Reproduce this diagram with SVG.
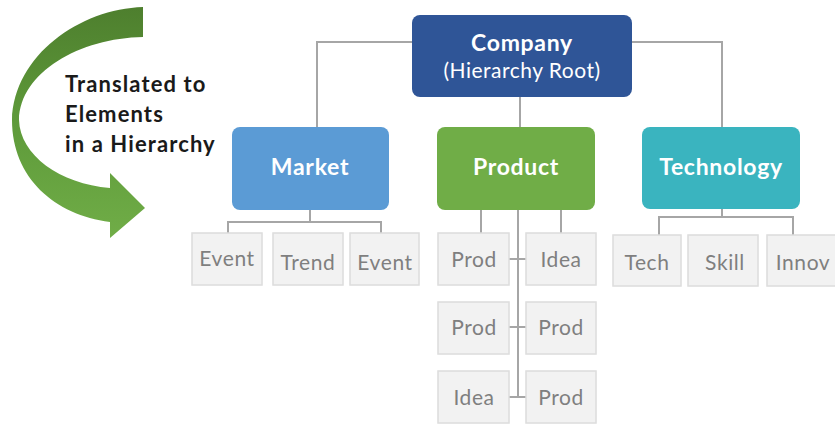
<svg xmlns="http://www.w3.org/2000/svg" width="835" height="425" viewBox="0 0 835 425">
<defs>
<linearGradient id="ag" x1="0" y1="0" x2="0" y2="1">
<stop offset="0" stop-color="#4E7F2E"/>
<stop offset="0.5" stop-color="#5E9A3A"/>
<stop offset="1" stop-color="#70AD47"/>
</linearGradient>
<style>
.box{stroke:none}
.leaf{fill:#F2F2F2;stroke:#DCDCDC;stroke-width:1.5}
.lt{font-family:Lato,"Open Sans","Liberation Sans",sans-serif;font-size:21px;letter-spacing:0.6px;fill:#7F7F7F;text-anchor:middle}
.bt{font-family:Lato,"Open Sans","Liberation Sans",sans-serif;font-size:23px;letter-spacing:0.7px;font-weight:bold;fill:#FFFFFF;text-anchor:middle}
.conn{fill:none;stroke:#A6A6A6;stroke-width:2}
.cap{font-family:Lato,"Open Sans","Liberation Sans",sans-serif;font-size:22px;letter-spacing:1.1px;font-weight:bold;fill:#1A1A1A}
</style>
</defs>
<rect width="835" height="425" fill="#FFFFFF"/>
<g id="arrow">
<path d="M143,7 C80,9 14,55 12,120 C12,178 55,215 110,222 L110,238 L145,208 L110,173 L110,188 C60,184 20,155 19,120 C20,72 80,38 143,37 Z" fill="url(#ag)"/>
</g>
<g id="caption">
<text class="cap" x="65" y="92">Translated to</text>
<text class="cap" x="65" y="122">Elements</text>
<text class="cap" x="65" y="152">in a Hierarchy</text>
</g>
<g id="connectors">
<path class="conn" d="M412,42 H317 V127"/>
<path class="conn" d="M632,42 H722 V127"/>
<path class="conn" d="M520,97 V127"/>
<path class="conn" d="M310,210 V222 M228,233 V222 H381 V233"/>
<path class="conn" d="M481,210 V233 M561,210 V233 M518,210 V397 M509,259 H526 M509,327 H526 M509,397 H526"/>
<path class="conn" d="M722,209 V217 M659,235 V217 H793 V235"/>
</g>
<g id="company">
<rect class="box" x="412" y="15" width="220" height="82" rx="8" fill="#2F5597"/>
<text class="bt" x="522" y="51">Company</text>
<text x="522" y="78" font-family="Lato,'Open Sans','Liberation Sans',sans-serif" font-size="21" letter-spacing="0.5" fill="#FFFFFF" text-anchor="middle">(Hierarchy Root)</text>
</g>
<g id="market">
<rect class="box" x="232" y="127" width="157" height="83" rx="8" fill="#5B9BD5"/>
<text class="bt" x="310" y="175">Market</text>
</g>
<g id="product">
<rect class="box" x="437" y="127" width="158" height="83" rx="8" fill="#70AD47"/>
<text class="bt" x="516" y="175">Product</text>
</g>
<g id="technology">
<rect class="box" x="642" y="127" width="158" height="82" rx="8" fill="#3AB4BF"/>
<text class="bt" x="721" y="175">Technology</text>
</g>
<g id="m-event1"><rect class="leaf" x="192" y="233" width="70" height="52"/><text class="lt" x="227" y="266">Event</text></g>
<g id="m-trend"><rect class="leaf" x="273" y="233" width="70" height="52"/><text class="lt" x="308" y="270">Trend</text></g>
<g id="m-event2"><rect class="leaf" x="350" y="233" width="69" height="52"/><text class="lt" x="385" y="270">Event</text></g>
<g id="p-prod1"><rect class="leaf" x="438" y="233" width="71" height="52"/><text class="lt" x="474" y="267">Prod</text></g>
<g id="p-idea1"><rect class="leaf" x="526" y="233" width="70" height="52"/><text class="lt" x="561" y="267">Idea</text></g>
<g id="p-prod2"><rect class="leaf" x="438" y="302" width="71" height="52"/><text class="lt" x="474" y="335">Prod</text></g>
<g id="p-prod3"><rect class="leaf" x="526" y="302" width="70" height="52"/><text class="lt" x="561" y="335">Prod</text></g>
<g id="p-idea2"><rect class="leaf" x="438" y="371" width="71" height="52"/><text class="lt" x="474" y="405">Idea</text></g>
<g id="p-prod4"><rect class="leaf" x="526" y="371" width="70" height="52"/><text class="lt" x="561" y="405">Prod</text></g>
<g id="t-tech"><rect class="leaf" x="613" y="235" width="68" height="51"/><text class="lt" x="647" y="270">Tech</text></g>
<g id="t-skill"><rect class="leaf" x="688" y="235" width="70" height="51"/><text class="lt" x="725" y="270">Skill</text></g>
<g id="t-innov"><rect class="leaf" x="767" y="235" width="70" height="51"/><text class="lt" x="803" y="270">Innov</text></g>
</svg>
